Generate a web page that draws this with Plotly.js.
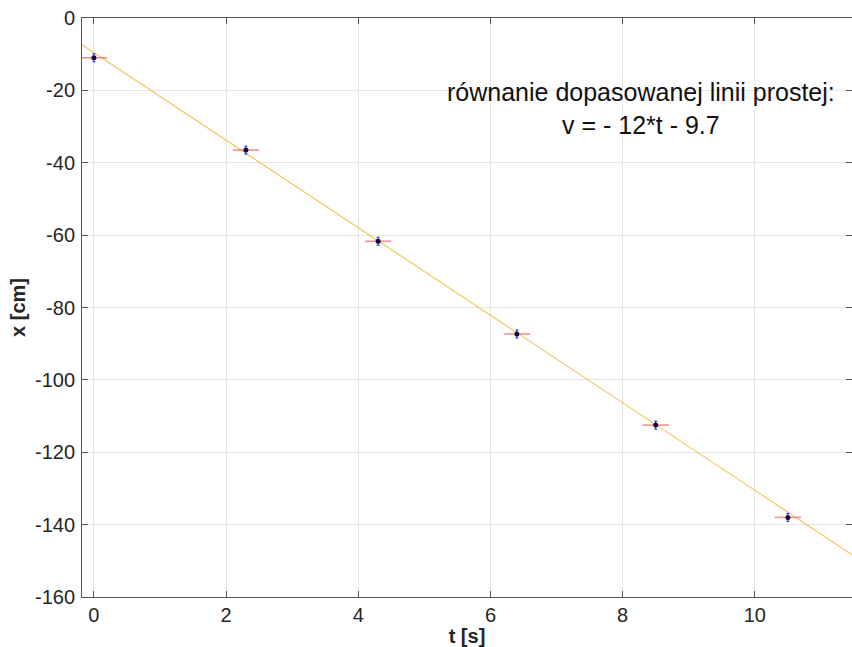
<!DOCTYPE html>
<html>
<head>
<meta charset="utf-8">
<script src="https://cdn.plot.ly/plotly-3.0.1.min.js"></script>
<style>html,body{margin:0;padding:0;background:#fff;}#chart{width:852px;height:647px;}</style>
</head>
<body>
<div id="chart"></div>
<script>
// Measured data
const tValues = [0, 2.3, 4.3, 6.4, 8.5, 10.5];
const xValues = [-11, -36.5, -61.7, -87.3, -112.5, -138.0];
const tErrors = [0.2, 0.2, 0.2, 0.2, 0.2, 0.2];
const xErrors = [1.1, 1.1, 1.1, 1.1, 1.1, 1.1];
// Fitted line endpoints
const fitT = [-0.18, 11.47];
const fitX = [-7.4, -148.3];
const xTicks = [0, 2, 4, 6, 8, 10];
const yTicks = [0, -20, -40, -60, -80, -100, -120, -140, -160];
const annotationLines = ['równanie dopasowanej linii prostej:', 'v = - 12*t - 9.7'];

const font = 'Liberation Sans, Arial, Helvetica, sans-serif';
const axisColor = '#555555';

const traces = [
  {
    x: fitT, y: fitX, mode: 'lines', type: 'scatter',
    line: {color: 'rgba(237,177,32,0.7)', width: 1.2},
    hoverinfo: 'skip', showlegend: false
  },
  {
    x: tValues, y: xValues, mode: 'markers', type: 'scatter',
    marker: {color: '#0b0b3a', size: 5},
    error_x: {type: 'data', array: tErrors, visible: true, color: 'rgba(240,110,110,0.75)', thickness: 1.6, width: 0},
    error_y: {type: 'data', array: xErrors, visible: true, color: '#2222ee', thickness: 1, width: 1.5},
    showlegend: false
  }
];

const layout = {
  width: 852, height: 647,
  margin: {l: 82, r: 0, t: 18, b: 50},
  paper_bgcolor: '#ffffff', plot_bgcolor: '#ffffff',
  font: {family: font, color: '#262626', size: 20},
  showlegend: false,
  xaxis: {
    range: [-0.18, 11.47],
    tickvals: xTicks, ticktext: xTicks.map(String),
    ticks: 'inside', ticklen: 6, tickcolor: axisColor, tickwidth: 1,
    showline: true, linecolor: axisColor, linewidth: 1, mirror: 'ticks',
    showgrid: true, gridcolor: '#e6e6e6', gridwidth: 1,
    zeroline: false,
    tickfont: {family: font, size: 20, color: '#262626'},
    title: {text: '<b>t [s]</b>', font: {family: font, size: 20, color: '#262626'}, standoff: 3}
  },
  yaxis: {
    range: [-160, 0],
    tickvals: yTicks, ticktext: yTicks.map(String),
    ticks: 'inside', ticklen: 6, tickcolor: axisColor, tickwidth: 1,
    showline: true, linecolor: axisColor, linewidth: 1, mirror: 'ticks',
    showgrid: true, gridcolor: '#e6e6e6', gridwidth: 1,
    zeroline: false,
    ticklabelstandoff: 2,
    tickfont: {family: font, size: 20, color: '#262626'},
    title: {text: '<b>x [cm]</b>', font: {family: font, size: 20, color: '#262626'}, standoff: 3}
  },
  annotations: [{
    x: 8.28, y: -25.1, xref: 'x', yref: 'y',
    text: annotationLines.join('<br>'),
    showarrow: false, align: 'center',
    font: {family: font, size: 25, color: '#111111'}
  }]
};

Plotly.newPlot('chart', traces, layout, {displayModeBar: false, staticPlot: true});
</script>
</body>
</html>
